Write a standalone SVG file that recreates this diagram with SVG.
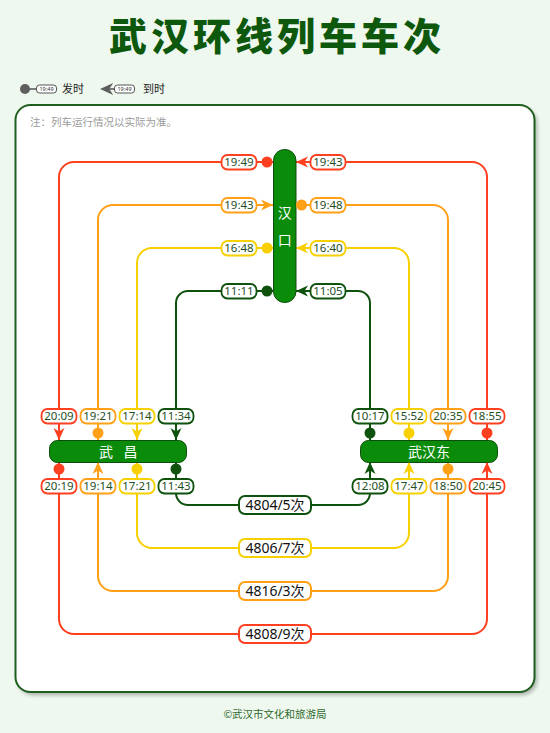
<svg xmlns="http://www.w3.org/2000/svg" xmlns:xlink="http://www.w3.org/1999/xlink" width="550" height="733" viewBox="0 0 550 733">
<defs>
<style>
.bg{fill:#EEF8EE}
.title{font-family:"Noto Sans CJK SC",sans-serif;font-weight:900;font-size:38px;fill:#0D580D;letter-spacing:4px}
.note{font-family:"Noto Sans CJK SC",sans-serif;font-size:10.5px;fill:#9a9a9a}
.foot{font-family:"Noto Sans CJK SC",sans-serif;font-size:10.5px;fill:#2E6A2E}
.leg{font-family:"Noto Sans CJK SC",sans-serif;font-size:11px;fill:#222}
.legt{font-family:"Noto Sans",sans-serif;font-size:5.5px;fill:#333}
.ln{fill:none;stroke-width:2}
.tb{fill:#fff;stroke-width:1.8}
.tt{font-family:"Noto Sans","Noto Sans CJK SC",sans-serif;font-size:11.5px;fill:#1F4F1F;text-anchor:middle}
.nb{fill:#fff;stroke-width:2}
.nt{font-family:"Noto Sans","Noto Sans CJK SC",sans-serif;font-size:14px;fill:#111;text-anchor:middle}
.st{fill:#0A8C0A;stroke:#0C4C0C;stroke-width:1}
.sn{font-family:"Noto Sans CJK SC",sans-serif;font-size:14px;fill:#fff;text-anchor:middle}
.rf{fill:#FF4020}.of{fill:#FFA016}.yf{fill:#F8D000}.gf{fill:#0E520E}
.rs{stroke:#FF4020}.os{stroke:#FFA016}.ys{stroke:#F8D000}.gs{stroke:#0E520E}
</style>
<path id="ah" d="M0,0 L-12,-5.5 L-8.5,0 L-12,5.5 Z"/>
<filter id="sh" x="-5%" y="-5%" width="110%" height="110%">
<feGaussianBlur stdDeviation="2"/>
</filter>
</defs>
<rect class="bg" x="0" y="0" width="550" height="733"/>
<text class="title" x="277" y="50" text-anchor="middle">武汉环线列车车次</text>

<g id="legend">
<line x1="25" y1="89" x2="37" y2="89" stroke="#555" stroke-width="1.5"/>
<circle cx="25" cy="89" r="5" fill="#5f5f5f"/>
<rect x="36.5" y="85" width="20" height="8" rx="3" fill="#fff" stroke="#555" stroke-width="1"/>
<text class="legt" x="46.5" y="91" text-anchor="middle">19:49</text>
<text class="leg" x="62" y="93">发时</text>
<line x1="105" y1="89" x2="115" y2="89" stroke="#555" stroke-width="1.5"/>
<use xlink:href="#ah" href="#ah" transform="translate(100,89) rotate(180) scale(1.1)" fill="#5f5f5f"/>
<rect x="114.5" y="85" width="20" height="8" rx="3" fill="#fff" stroke="#555" stroke-width="1"/>
<text class="legt" x="124.5" y="91" text-anchor="middle">19:49</text>
<text class="leg" x="143" y="93">到时</text>
</g>

<rect x="18" y="108" width="519" height="587" rx="15" fill="#000" opacity="0.3" filter="url(#sh)"/>
<rect x="15.5" y="105" width="519" height="587" rx="15" fill="#fff" stroke="#1E5E1E" stroke-width="2"/>
<text class="note" x="30" y="125.5">注：列车运行情况以实际为准。</text>

<g id="connectors">
<path class="ln rs" d="M487,440 V177 A15,15 0 0 0 472,162 H296"/>
<path class="ln rs" d="M273,162 H74 A15,15 0 0 0 59,177 V440"/>
<path class="ln rs" d="M59,462 V619 A15,15 0 0 0 74,634 H472 A15,15 0 0 0 487,619 V462"/>
<path class="ln os" d="M98,440 V220 A15,15 0 0 1 113,205 H273"/>
<path class="ln os" d="M296,205 H433 A15,15 0 0 1 448,220 V440"/>
<path class="ln os" d="M448,462 V576 A15,15 0 0 1 433,591 H113 A15,15 0 0 1 98,576 V462"/>
<path class="ln ys" d="M409,440 V263 A15,15 0 0 0 394,248 H296"/>
<path class="ln ys" d="M273,248 H152 A15,15 0 0 0 137,263 V440"/>
<path class="ln ys" d="M137,462 V533 A15,15 0 0 0 152,548 H394 A15,15 0 0 0 409,533 V462"/>
<path class="ln gs" d="M370,440 V303 A12,12 0 0 0 358,291 H296"/>
<path class="ln gs" d="M273,291 H188 A12,12 0 0 0 176,303 V440"/>
<path class="ln gs" d="M176,462 V493 A12,12 0 0 0 188,505 H358 A12,12 0 0 0 370,493 V462"/>
</g>

<g id="hankou">
<rect class="st" x="273.5" y="149.5" width="22.5" height="153" rx="11"/>
<text class="sn" x="284.7" y="218">汉</text>
<text class="sn" x="284.7" y="245">口</text>
</g>
<g id="wuchang">
<rect class="st" x="49.5" y="440.5" width="137" height="22" rx="8"/>
<text class="sn" x="120" y="456.5" style="letter-spacing:3.7px">武 昌</text>
</g>
<g id="wuhandong">
<rect class="st" x="360.5" y="440.5" width="137" height="22" rx="8"/>
<text class="sn" x="429" y="456.5">武汉东</text>
</g>

<g id="markers">
<circle class="rf" cx="267" cy="162" r="5.5"/>
<circle class="rf" cx="59" cy="469" r="5.5"/>
<circle class="rf" cx="487" cy="433" r="5.5"/>
<circle class="of" cx="301.5" cy="205" r="5.5"/>
<circle class="of" cx="98" cy="433" r="5.5"/>
<circle class="of" cx="448" cy="469" r="5.5"/>
<circle class="yf" cx="267" cy="248" r="5.5"/>
<circle class="yf" cx="137" cy="469" r="5.5"/>
<circle class="yf" cx="409" cy="433" r="5.5"/>
<circle class="gf" cx="267" cy="291" r="5.5"/>
<circle class="gf" cx="176" cy="469" r="5.5"/>
<circle class="gf" cx="370" cy="433" r="5.5"/>
<use xlink:href="#ah" href="#ah" class="rf" transform="translate(296,162) rotate(180)"/>
<use xlink:href="#ah" href="#ah" class="rf" transform="translate(59,440) rotate(90)"/>
<use xlink:href="#ah" href="#ah" class="rf" transform="translate(487,462) rotate(-90)"/>
<use xlink:href="#ah" href="#ah" class="of" transform="translate(273,205)"/>
<use xlink:href="#ah" href="#ah" class="of" transform="translate(98,462) rotate(-90)"/>
<use xlink:href="#ah" href="#ah" class="of" transform="translate(448,440) rotate(90)"/>
<use xlink:href="#ah" href="#ah" class="yf" transform="translate(296,248) rotate(180)"/>
<use xlink:href="#ah" href="#ah" class="yf" transform="translate(137,440) rotate(90)"/>
<use xlink:href="#ah" href="#ah" class="yf" transform="translate(409,462) rotate(-90)"/>
<use xlink:href="#ah" href="#ah" class="gf" transform="translate(296,291) rotate(180)"/>
<use xlink:href="#ah" href="#ah" class="gf" transform="translate(176,440) rotate(90)"/>
<use xlink:href="#ah" href="#ah" class="gf" transform="translate(370,462) rotate(-90)"/>
</g>

<g id="times">
<rect class="tb rs" x="221.5" y="155" width="35" height="14.5" rx="6"/><text class="tt" x="239" y="166.3">19:49</text>
<rect class="tb rs" x="310.5" y="155" width="35" height="14.5" rx="6"/><text class="tt" x="328" y="166.3">19:43</text>
<rect class="tb os" x="221.5" y="198" width="35" height="14.5" rx="6"/><text class="tt" x="239" y="209.3">19:43</text>
<rect class="tb os" x="310.5" y="198" width="35" height="14.5" rx="6"/><text class="tt" x="328" y="209.3">19:48</text>
<rect class="tb ys" x="221.5" y="241" width="35" height="14.5" rx="6"/><text class="tt" x="239" y="252.3">16:48</text>
<rect class="tb ys" x="310.5" y="241" width="35" height="14.5" rx="6"/><text class="tt" x="328" y="252.3">16:40</text>
<rect class="tb gs" x="221.5" y="284" width="35" height="14.5" rx="6"/><text class="tt" x="239" y="295.3">11:11</text>
<rect class="tb gs" x="310.5" y="284" width="35" height="14.5" rx="6"/><text class="tt" x="328" y="295.3">11:05</text>

<rect class="tb rs" x="41.5" y="409" width="35" height="14.5" rx="6"/><text class="tt" x="59" y="420.3">20:09</text>
<rect class="tb os" x="80.5" y="409" width="35" height="14.5" rx="6"/><text class="tt" x="98" y="420.3">19:21</text>
<rect class="tb ys" x="119.5" y="409" width="35" height="14.5" rx="6"/><text class="tt" x="137" y="420.3">17:14</text>
<rect class="tb gs" x="158.5" y="409" width="35" height="14.5" rx="6"/><text class="tt" x="176" y="420.3">11:34</text>
<rect class="tb rs" x="41.5" y="479" width="35" height="14.5" rx="6"/><text class="tt" x="59" y="490.3">20:19</text>
<rect class="tb os" x="80.5" y="479" width="35" height="14.5" rx="6"/><text class="tt" x="98" y="490.3">19:14</text>
<rect class="tb ys" x="119.5" y="479" width="35" height="14.5" rx="6"/><text class="tt" x="137" y="490.3">17:21</text>
<rect class="tb gs" x="158.5" y="479" width="35" height="14.5" rx="6"/><text class="tt" x="176" y="490.3">11:43</text>

<rect class="tb gs" x="352.5" y="409" width="35" height="14.5" rx="6"/><text class="tt" x="370" y="420.3">10:17</text>
<rect class="tb ys" x="391.5" y="409" width="35" height="14.5" rx="6"/><text class="tt" x="409" y="420.3">15:52</text>
<rect class="tb os" x="430.5" y="409" width="35" height="14.5" rx="6"/><text class="tt" x="448" y="420.3">20:35</text>
<rect class="tb rs" x="469.5" y="409" width="35" height="14.5" rx="6"/><text class="tt" x="487" y="420.3">18:55</text>
<rect class="tb gs" x="352.5" y="479" width="35" height="14.5" rx="6"/><text class="tt" x="370" y="490.3">12:08</text>
<rect class="tb ys" x="391.5" y="479" width="35" height="14.5" rx="6"/><text class="tt" x="409" y="490.3">17:47</text>
<rect class="tb os" x="430.5" y="479" width="35" height="14.5" rx="6"/><text class="tt" x="448" y="490.3">18:50</text>
<rect class="tb rs" x="469.5" y="479" width="35" height="14.5" rx="6"/><text class="tt" x="487" y="490.3">20:45</text>
</g>

<g id="trains">
<rect class="nb gs" x="239" y="496" width="72" height="18" rx="6"/><text class="nt" x="275" y="510">4804/5次</text>
<rect class="nb ys" x="239" y="539" width="72" height="18" rx="6"/><text class="nt" x="275" y="553">4806/7次</text>
<rect class="nb os" x="239" y="582" width="72" height="18" rx="6"/><text class="nt" x="275" y="596">4816/3次</text>
<rect class="nb rs" x="239" y="625" width="72" height="18" rx="6"/><text class="nt" x="275" y="639">4808/9次</text>
</g>

<text class="foot" x="275" y="717.5" text-anchor="middle">©武汉市文化和旅游局</text>
</svg>
